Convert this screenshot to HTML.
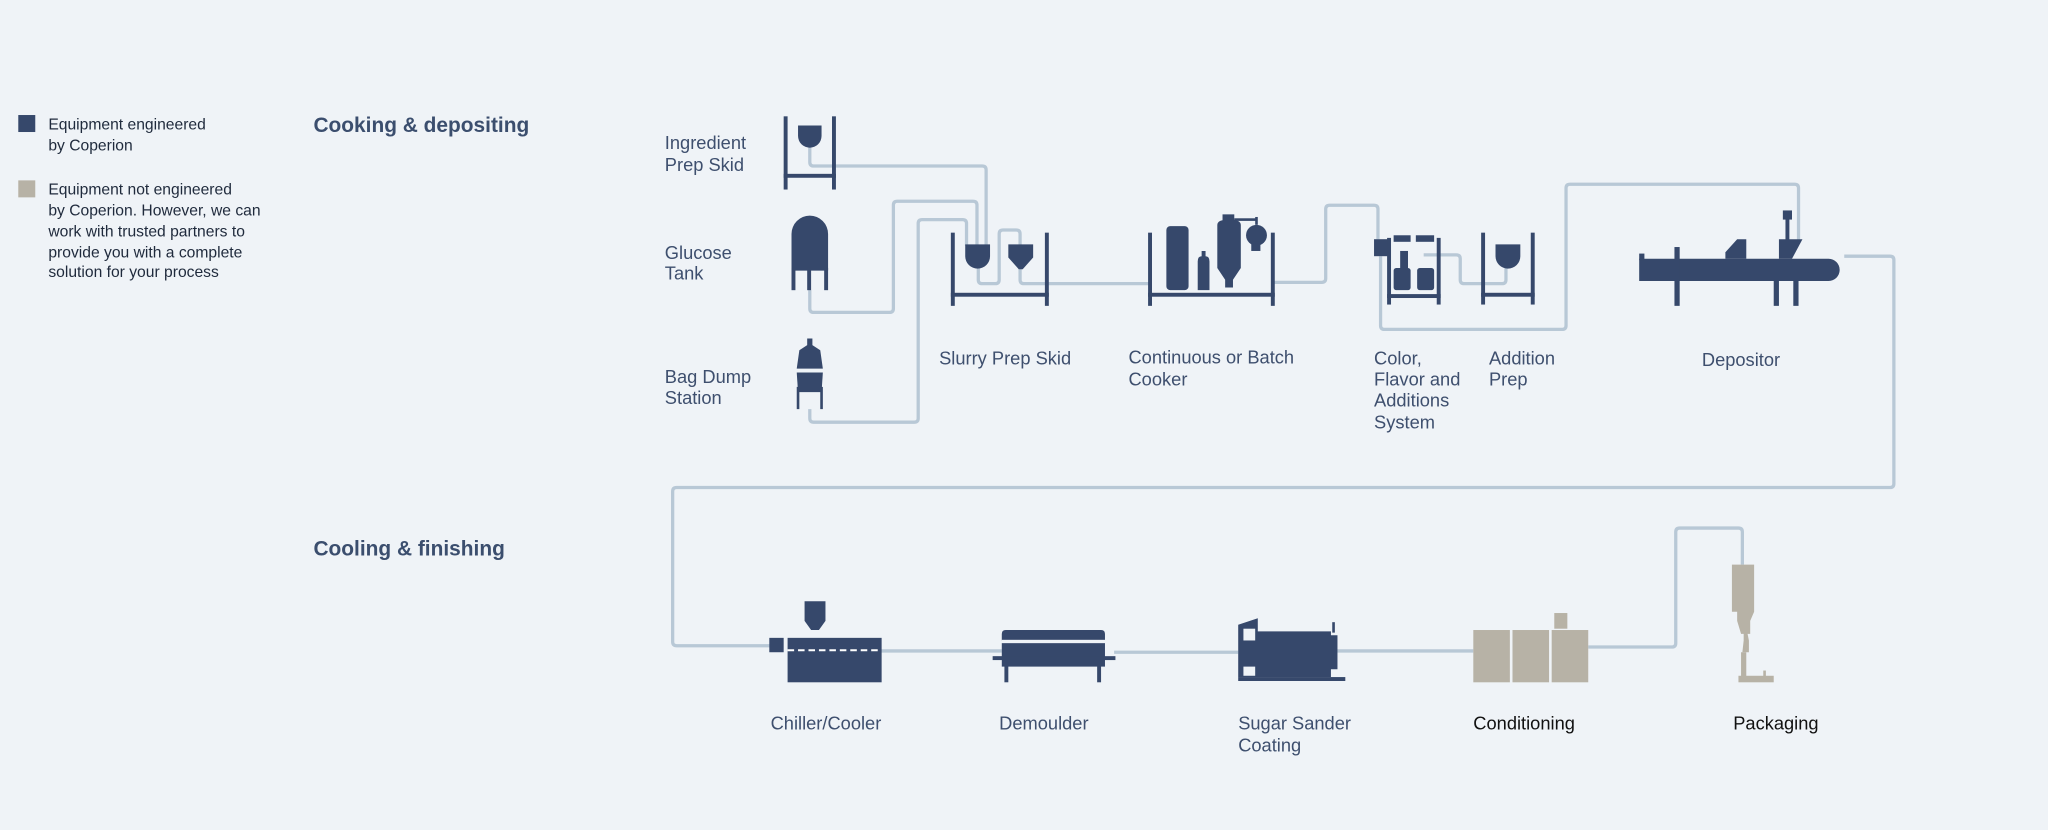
<!DOCTYPE html>
<html><head><meta charset="utf-8"><style>
html,body{margin:0;padding:0;background:#eff3f7;}
svg{display:block}
text{font-family:"Liberation Sans",sans-serif;}
</style></head><body>
<svg width="2048" height="830" viewBox="0 0 1568 635" preserveAspectRatio="none" xmlns="http://www.w3.org/2000/svg">
<rect width="1568" height="635" fill="#eff3f7"/>
<!-- legend -->
<rect x="14" y="88" width="13" height="13" fill="#36486b"/>
<rect x="14" y="138" width="13" height="13" fill="#b7b2a6"/>
<g font-size="12" fill="#1f2a3c">
<text x="37" y="99">Equipment engineered</text>
<text x="37" y="115">by Coperion</text>
<text x="37" y="149">Equipment not engineered</text>
<text x="37" y="165">by Coperion. However, we can</text>
<text x="37" y="181">work with trusted partners to</text>
<text x="37" y="197">provide you with a complete</text>
<text x="37" y="212">solution for your process</text>
</g>
<g font-size="16" font-weight="bold" fill="#3b4e6e">
<text x="240" y="101">Cooking &amp; depositing</text>
<text x="240" y="425">Cooling &amp; finishing</text>
</g>
<!-- pipes -->
<g fill="none" stroke="#b8c8d6" stroke-width="2.5" stroke-linejoin="round">
<path d="M620 112 V124 Q620 127 623 127 H752 Q755 127 755 130 V188"/>
<path d="M620 222 V236 Q620 239 623 239 H681 Q684 239 684 236 V157 Q684 154 687 154 H745 Q748 154 748 157 V188"/>
<path d="M620 313 V320 Q620 323 623 323 H700 Q703 323 703 320 V171 Q703 168 706 168 H737 Q740 168 740 171 V188"/>
<path d="M749 205 V214 Q749 217 752 217 H762 Q765 217 765 214 V179 Q765 176 768 176 H778 Q781 176 781 179 V188"/>
<path d="M781 205 V214 Q781 217 784 217 H880"/>
<path d="M975 216 H1012 Q1015 216 1015 213 V160 Q1015 157 1018 157 H1052 Q1055 157 1055 160 V183"/>
<path d="M1090 195 H1115 Q1118 195 1118 198 V214 Q1118 217 1121 217 H1150 Q1153 217 1153 214 V204"/>
<path d="M1057 196 V249 Q1057 252 1060 252 H1196 Q1199 252 1199 249 V144 Q1199 141 1202 141 H1374 Q1377 141 1377 144 V185"/>
<path d="M1412 196 H1447 Q1450 196 1450 199 V370 Q1450 373 1447 373 H518 Q515 373 515 376 V491 Q515 494 518 494 H592"/>
<path d="M674 498 H767"/>
<path d="M853 499 H948"/>
<path d="M1024 498 H1128"/>
<path d="M1216 495 H1280 Q1283 495 1283 492 V407 Q1283 404 1286 404 H1331 Q1334 404 1334 407 V432"/>
</g>
<!-- equipment dark -->
<g fill="#36486b">
<!-- ingredient skid -->
<rect x="600" y="89" width="3" height="56"/><rect x="637" y="89" width="3" height="56"/><rect x="600" y="133" width="40" height="3"/>
<path d="M611 96 H629 V104 A9 9 0 0 1 611 104 Z"/>
<!-- glucose -->
<path d="M606 207 V179 A14 14 0 0 1 634 179 V207 Z"/>
<rect x="606" y="205" width="3" height="17"/><rect x="618" y="205" width="3" height="17"/><rect x="631" y="205" width="3" height="17"/>
<!-- bag dump -->
<path d="M618 259 H622 V264 L628 268 L630 282 H610 L612 268 L618 264 Z"/>
<path d="M610 285 H630 L629 300 H611 Z"/>
<rect x="610" y="296" width="2" height="17"/><rect x="628" y="296" width="2" height="17"/>
<!-- slurry -->
<rect x="728" y="178" width="3" height="56"/><rect x="800" y="178" width="3" height="56"/><rect x="728" y="224" width="75" height="3"/>
<path d="M739 187 H758 V196 A9.5 9.5 0 0 1 739 196 Z"/>
<path d="M772 187 H791 V197 L783 206 H780 L772 197 Z"/>
<!-- cooker -->
<rect x="879" y="178" width="3" height="56"/><rect x="973" y="178" width="3" height="56"/><rect x="879" y="224" width="97" height="3"/>
<rect x="893" y="173" width="17" height="49" rx="3"/>
<path d="M917 222 V200 Q917 196 920 196 V192 H923 V196 Q926 196 926 200 V222 Z"/>
<rect x="936" y="164" width="9" height="5"/>
<path d="M932 172 Q932 168 941 168 Q950 168 950 172 V205 L944 214 V220 H938 V214 L932 205 Z"/>
<rect x="945" y="167" width="17" height="2"/>
<circle cx="962" cy="180" r="8"/><rect x="958" y="185" width="7" height="7"/><rect x="961" y="166" width="2" height="6"/>
<!-- color system -->
<rect x="1052" y="183" width="11" height="13"/>
<rect x="1062" y="182" width="3" height="51"/><rect x="1100" y="182" width="3" height="51"/><rect x="1062" y="225" width="41" height="3"/>
<rect x="1067" y="180" width="13" height="5"/><rect x="1084" y="180" width="14" height="5"/>
<rect x="1072" y="192" width="6" height="14"/>
<rect x="1067" y="205" width="13" height="17" rx="2"/><rect x="1085" y="205" width="13" height="17" rx="2"/>
<!-- addition prep -->
<rect x="1134" y="178" width="3" height="55"/><rect x="1172" y="178" width="3" height="55"/><rect x="1134" y="224" width="41" height="3"/>
<path d="M1145 187 H1164 V196 A9.5 9.5 0 0 1 1145 196 Z"/>
<!-- depositor -->
<path d="M1255 198 H1400 A8.5 8.5 0 0 1 1400 215 H1255 Z"/>
<rect x="1255" y="194" width="4" height="5"/>
<rect x="1282" y="189" width="4" height="45"/>
<rect x="1358" y="214" width="4" height="20"/><rect x="1373" y="214" width="4" height="20"/>
<path d="M1321 193 L1330 183 H1337 V198 H1321 Z"/>
<rect x="1365" y="161" width="7" height="7"/><rect x="1367" y="167" width="3" height="17"/>
<path d="M1362 183 H1380 L1372 198 H1362 Z"/>
<!-- chiller -->
<rect x="589" y="488" width="11" height="11"/>
<rect x="603" y="488" width="72" height="34"/>
<path d="M616 460 H632 V475 L627 482 H621 L616 475 Z"/>
<!-- demoulder -->
<path d="M767 490 V485 Q767 482 770 482 H843 Q846 482 846 485 V490 Z"/>
<rect x="767" y="492" width="79" height="18"/>
<rect x="760" y="502" width="94" height="3"/>
<rect x="769" y="508" width="3" height="14"/><rect x="840" y="508" width="3" height="14"/>
<!-- sugar sander -->
<path d="M948 478 L963 473 V483 H1019 V486 H1024 V512 H1019 V518 H948 Z"/>
<rect x="1020" y="476" width="2" height="8"/>
<rect x="948" y="518" width="82" height="3"/>
</g>
<!-- white details -->
<g fill="#eff3f7">
<rect x="952" y="481" width="9" height="9"/>
<rect x="952" y="510" width="9" height="7"/>
</g>
<path d="M603 497.5 H675" stroke="#fff" stroke-width="1.5" stroke-dasharray="5 3"/>
<rect x="767" y="489.5" width="79" height="2.5" fill="#eff3f7"/>
<!-- gray -->
<g fill="#b7b2a6">
<rect x="1128" y="482" width="28" height="40"/><rect x="1158" y="482" width="28" height="40"/><rect x="1188" y="482" width="28" height="40"/>
<rect x="1190" y="469" width="10" height="12"/>
<path d="M1326 432 H1343 V468 L1340 475 V485 H1338 L1339 490 V499 H1334 L1335 490 V485 H1333 L1330 475 V468 L1326 468 Z" />
<rect x="1333" y="499" width="4" height="20"/>
<rect x="1331" y="517" width="27" height="5"/>
<rect x="1350" y="513" width="2" height="5"/>
</g>
<!-- labels -->
<g font-size="14" fill="#3e4f6e">
<text x="509" y="114">Ingredient</text><text x="509" y="131">Prep Skid</text>
<text x="509" y="198">Glucose</text><text x="509" y="214">Tank</text>
<text x="509" y="293">Bag Dump</text><text x="509" y="309">Station</text>
<text x="719" y="279">Slurry Prep Skid</text>
<text x="864" y="278">Continuous or Batch</text><text x="864" y="295">Cooker</text>
<text x="1052" y="279">Color,</text><text x="1052" y="295">Flavor and</text><text x="1052" y="311">Additions</text><text x="1052" y="328">System</text>
<text x="1140" y="279">Addition</text><text x="1140" y="295">Prep</text>
<text x="1303" y="280">Depositor</text>
<text x="590" y="558">Chiller/Cooler</text>
<text x="765" y="558">Demoulder</text>
<text x="948" y="558">Sugar Sander</text><text x="948" y="575">Coating</text>
<text x="1128" y="558" fill="#111">Conditioning</text>
<text x="1327" y="558" fill="#111">Packaging</text>
</g>
</svg>
</body></html>
